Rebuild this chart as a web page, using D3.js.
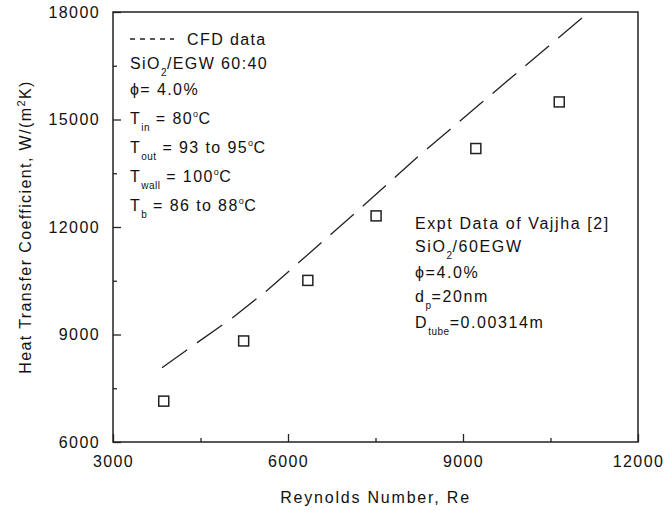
<!DOCTYPE html>
<html>
<head>
<meta charset="utf-8">
<script src="https://cdn.jsdelivr.net/npm/d3@7"></script>
<style>
  body { margin: 0; background: #fff; }
  svg text { font-family: "Liberation Sans", Arial, sans-serif; fill: #111; letter-spacing: 1.4px; }
</style>
</head>
<body>
<div id="chart"></div>
<script>
// CFD data (dashed line)
const cfdRe = [3840, 4450, 5050, 5650, 6430, 7290, 8260, 9290, 10490, 11130];
const cfdH  = [8070, 8780, 9470, 10240, 11360, 12590, 14010, 15430, 17080, 17960];

// Expt data of Vajjha [2] (squares)
const exptRe = [3870, 5240, 6340, 7510, 9220, 10650];
const exptH  = [7140, 8820, 10510, 12310, 14190, 15490];

const xMajor = [3000, 6000, 9000, 12000];
const xMinor = [4500, 7500, 10500];
const yMajor = [6000, 9000, 12000, 15000, 18000];
const yMinor = [7500, 10500, 13500, 16500];

// text blocks: [text, "sub"|"sup"|null]
const leftNotes = [
    [["SiO"], ["2", "sub"], ["/EGW 60:40"]],
    [["\u03d5= 4.0%"]],
    [["T"], ["in", "sub"], [" = 80"], ["o", "sup"], ["C"]],
    [["T"], ["out", "sub"], [" = 93 to 95"], ["o", "sup"], ["C"]],
    [["T"], ["wall", "sub"], [" = 100"], ["o", "sup"], ["C"]],
    [["T"], ["b", "sub"], [" = 86 to 88"], ["o", "sup"], ["C"]]
];
const rightNotes = [
    [["Expt Data of Vajjha [2]"]],
    [["SiO"], ["2", "sub"], ["/60EGW"]],
    [["\u03d5=4.0%"]],
    [["d"], ["p", "sub"], ["=20nm"]],
    [["D"], ["tube", "sub"], ["=0.00314m"]]
];

const margin = {top: 12, right: 27, bottom: 70, left: 113},
      width = 665 - margin.left - margin.right,
      height = 512 - margin.top - margin.bottom;

const svg = d3.select('#chart').append('svg')
    .attr('width', 665)
    .attr('height', 512);

const g = svg.append('g')
    .attr('transform', `translate(${margin.left},${margin.top})`);

const x = d3.scaleLinear().domain([3000, 12000]).range([0, width]);
const y = d3.scaleLinear().domain([6000, 18000]).range([height, 0]);

// axes: minor ticks first, then major ticks with labels
g.append('g')
    .attr('transform', `translate(0,${height})`)
    .call(d3.axisBottom(x).tickValues(xMinor).tickSize(-4).tickFormat(''));
g.append('g')
    .attr('class', 'x axis')
    .attr('transform', `translate(0,${height})`)
    .call(d3.axisBottom(x).tickValues(xMajor).tickSize(-8).tickPadding(14).tickFormat(d3.format('d')));
g.append('g')
    .call(d3.axisLeft(y).tickValues(yMinor).tickSize(-4).tickFormat(''));
g.append('g')
    .attr('class', 'y axis')
    .call(d3.axisLeft(y).tickValues(yMajor).tickSize(-8).tickPadding(13).tickFormat(d3.format('d')));

g.selectAll('.domain').remove();
g.selectAll('.tick line').attr('stroke', '#222').attr('stroke-width', 1.3);
g.selectAll('.tick text').style('font-size', '16px').attr('fill', '#111');

// frame
g.append('rect')
    .attr('width', width)
    .attr('height', height)
    .attr('fill', 'none')
    .attr('stroke', '#222')
    .attr('stroke-width', 1.5);

// CFD dashed line
const cfd = cfdRe.map((r, i) => ({re: r, h: cfdH[i]}));
const line = d3.line()
    .x(d => x(d.re))
    .y(d => y(d.h));

g.append('path')
    .datum(cfd)
    .attr('d', line)
    .attr('fill', 'none')
    .attr('stroke', '#222')
    .attr('stroke-width', 1.3)
    .attr('stroke-dasharray', '31,12');

// expt squares
const expt = exptRe.map((r, i) => ({re: r, h: exptH[i]}));
const sq = 10;
g.selectAll('.pt')
    .data(expt)
    .enter().append('rect')
    .attr('class', 'pt')
    .attr('x', d => x(d.re) - sq / 2)
    .attr('y', d => y(d.h) - sq / 2)
    .attr('width', sq)
    .attr('height', sq)
    .attr('fill', 'none')
    .attr('stroke', '#222')
    .attr('stroke-width', 1.5);

// axis titles
svg.append('text')
    .attr('x', margin.left + width / 2)
    .attr('y', 503)
    .attr('text-anchor', 'middle')
    .style('font-size', '16px')
    .style('letter-spacing', '1.8px')
    .text('Reynolds Number, Re');

const yTitle = svg.append('text')
    .attr('transform', `translate(31,${margin.top + height / 2}) rotate(-90)`)
    .attr('text-anchor', 'middle')
    .style('font-size', '16px');
yTitle.append('tspan').text('Heat Transfer Coefficient, W/(m');
yTitle.append('tspan').attr('dy', -6).style('font-size', '11px').text('2');
yTitle.append('tspan').attr('dy', 6).text('K)');

// rich text helper
function richText(parent, xPos, yPos, parts, spacing) {
    const t = parent.append('text')
        .attr('x', xPos)
        .attr('y', yPos)
        .style('font-size', '16px')
        .style('letter-spacing', spacing + 'px');
    let shift = 0;
    parts.forEach(p => {
        const kind = p[1];
        const target = kind === 'sub' ? 7 : kind === 'sup' ? -7 : 0;
        const ts = t.append('tspan')
            .attr('dy', target - shift)
            .text(p[0]);
        if (kind) ts.style('font-size', kind === 'sub' ? '10px' : '9px');
        if (kind) ts.style('letter-spacing', '0.5px');
        shift = target;
    });
    return t;
}

// legend
svg.append('line')
    .attr('x1', 130).attr('x2', 174)
    .attr('y1', 39).attr('y2', 39)
    .attr('stroke', '#222')
    .attr('stroke-width', 1.3)
    .attr('stroke-dasharray', '5,5');
svg.append('text')
    .attr('x', 187)
    .attr('y', 45)
    .style('font-size', '16px')
    .text('CFD data');

const leftY = [69, 95, 124, 153, 182, 211];
leftNotes.forEach((parts, i) => richText(svg, 130, leftY[i], parts, 1.4));

const rightY = [229, 252, 278, 302, 328];
rightNotes.forEach((parts, i) => richText(svg, 415, rightY[i], parts, 1.6));
</script>
</body>
</html>
